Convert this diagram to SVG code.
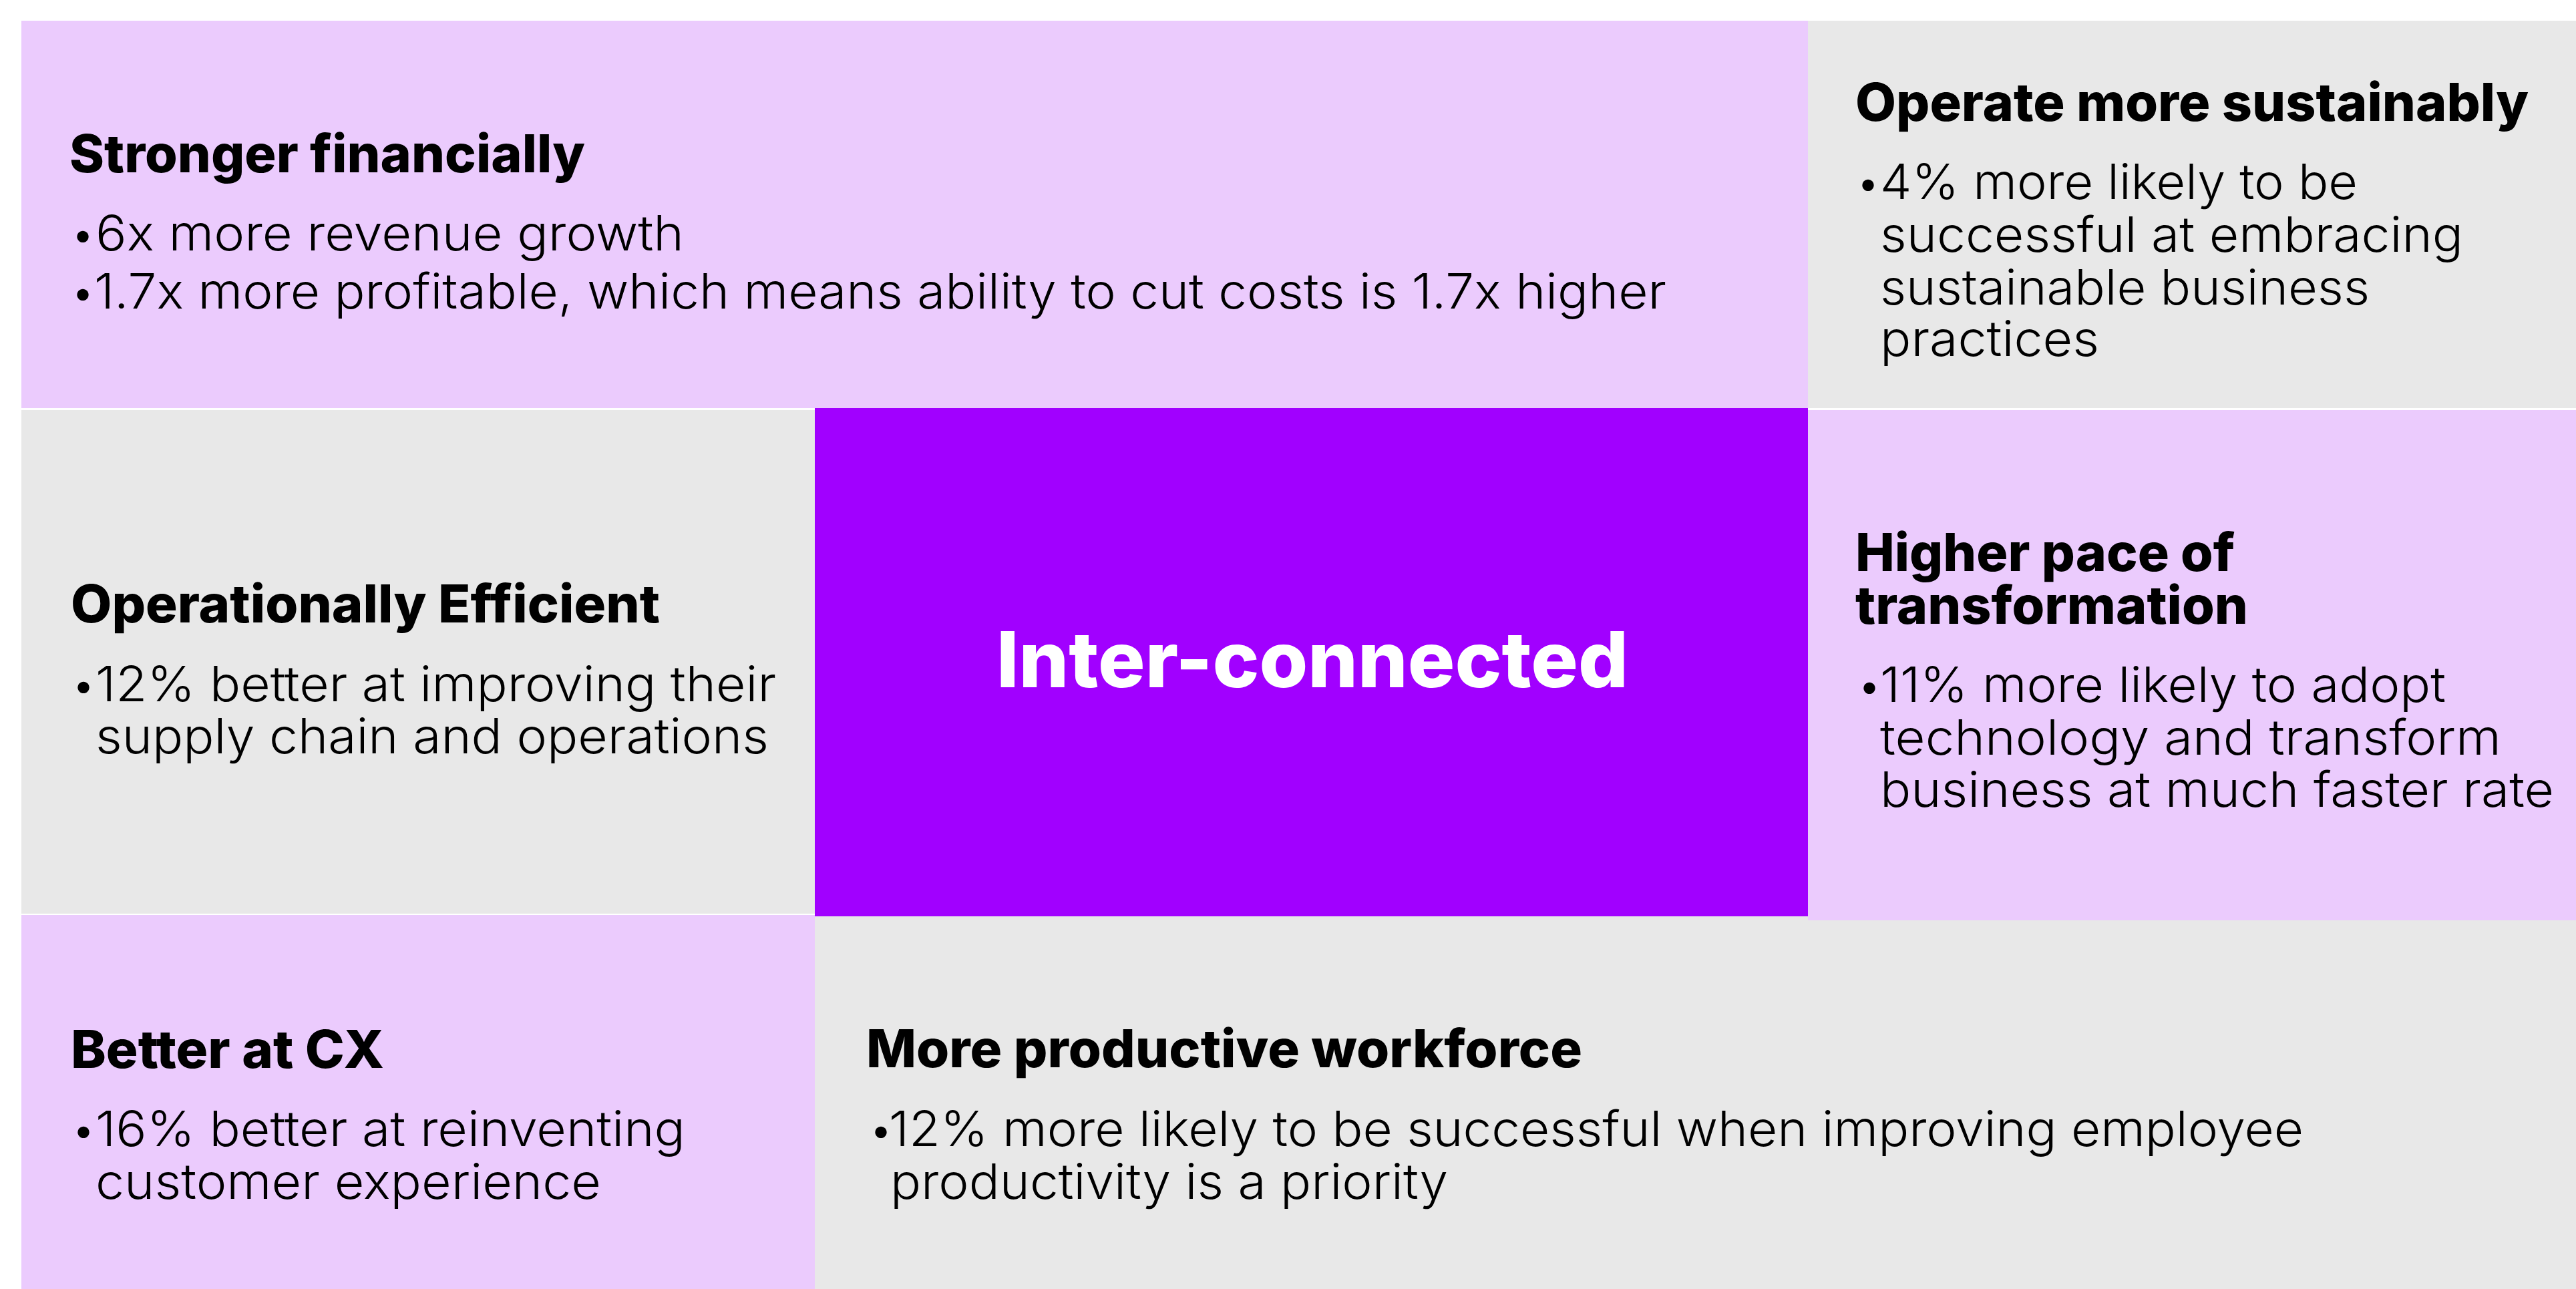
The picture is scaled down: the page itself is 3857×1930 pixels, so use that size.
<svg xmlns="http://www.w3.org/2000/svg" width="3857" height="1930" viewBox="0 0 3857 1930">
<style>
.lilac{fill:#EBCBFD}
.grey{fill:#E8E8E8}
.purple{fill:#A100FF}
.h{font-family:Inter,"Liberation Sans",Roboto,sans-serif;font-weight:800;font-size:78px;fill:#000}
.b{font-family:Inter,Roboto,"Open Sans","Liberation Sans",sans-serif;font-weight:300;font-size:73px;fill:#000}
.c{font-family:Inter,"Liberation Sans",Roboto,sans-serif;font-weight:800;font-size:116px;fill:#fff}
.dot{font-size:64px}
</style>
<rect x="0" y="0" width="3857" height="1930" fill="#ffffff"/>
<g id="node-workforce">
<rect class="grey" x="1220" y="1371" width="2637" height="559"/>
<text class="h" x="1297" y="1598" textLength="1072" lengthAdjust="spacingAndGlyphs">More productive workforce</text>
<text class="b"><tspan class="dot" x="1301" y="1714">•</tspan><tspan x="1331" y="1716" textLength="2118" lengthAdjust="spacingAndGlyphs">12% more likely to be successful when improving employee</tspan><tspan x="1333" y="1795" textLength="835" lengthAdjust="spacingAndGlyphs">productivity is a priority</tspan></text>
</g>
<g id="node-financial">
<rect class="lilac" x="32" y="31" width="2675" height="580"/>
<text class="h" x="104" y="258" textLength="772" lengthAdjust="spacingAndGlyphs">Stronger financially</text>
<text class="b"><tspan class="dot" x="106" y="373">•</tspan><tspan x="143" y="375" textLength="881" lengthAdjust="spacingAndGlyphs">6x more revenue growth</tspan><tspan class="dot" x="106" y="460">•</tspan><tspan x="141" y="462" textLength="2354" lengthAdjust="spacingAndGlyphs">1.7x more profitable, which means ability to cut costs is 1.7x higher</tspan></text>
</g>
<g id="node-sustainable">
<rect class="grey" x="2707" y="31" width="1150" height="580"/>
<text class="h" x="2778" y="181" textLength="1008" lengthAdjust="spacingAndGlyphs">Operate more sustainably</text>
<text class="b"><tspan class="dot" x="2779" y="296">•</tspan><tspan x="2815" y="298" textLength="715" lengthAdjust="spacingAndGlyphs">4% more likely to be</tspan><tspan x="2815" y="377" textLength="873" lengthAdjust="spacingAndGlyphs">successful at embracing</tspan><tspan x="2815" y="456" textLength="733" lengthAdjust="spacingAndGlyphs">sustainable business</tspan><tspan x="2815" y="533" textLength="328" lengthAdjust="spacingAndGlyphs">practices</tspan></text>
</g>
<g id="node-operational">
<rect class="grey" x="32" y="614" width="1189" height="754"/>
<text class="h" x="106" y="932" textLength="882" lengthAdjust="spacingAndGlyphs">Operationally Efficient</text>
<text class="b"><tspan class="dot" x="107" y="1048">•</tspan><tspan x="143" y="1050" textLength="1019" lengthAdjust="spacingAndGlyphs">12% better at improving their</tspan><tspan x="143" y="1128" textLength="1008" lengthAdjust="spacingAndGlyphs">supply chain and operations</tspan></text>
</g>
<g id="node-pace">
<rect class="lilac" x="2707" y="614" width="1150" height="764"/>
<text class="h"><tspan x="2778" y="855" textLength="568" lengthAdjust="spacingAndGlyphs">Higher pace of</tspan><tspan x="2778" y="934" textLength="588" lengthAdjust="spacingAndGlyphs">transformation</tspan></text>
<text class="b"><tspan class="dot" x="2781" y="1049">•</tspan><tspan x="2815" y="1051" textLength="847" lengthAdjust="spacingAndGlyphs">11% more likely to adopt</tspan><tspan x="2815" y="1130" textLength="930" lengthAdjust="spacingAndGlyphs">technology and transform</tspan><tspan x="2815" y="1208" textLength="1009" lengthAdjust="spacingAndGlyphs">business at much faster rate</tspan></text>
</g>
<g id="node-cx">
<rect class="lilac" x="32" y="1370" width="1188" height="560"/>
<text class="h" x="106" y="1599" textLength="469" lengthAdjust="spacingAndGlyphs">Better at CX</text>
<text class="b"><tspan class="dot" x="107" y="1714">•</tspan><tspan x="143" y="1716" textLength="883" lengthAdjust="spacingAndGlyphs">16% better at reinventing</tspan><tspan x="143" y="1795" textLength="757" lengthAdjust="spacingAndGlyphs">customer experience</tspan></text>
</g>
<g id="node-center">
<rect class="purple" x="1220" y="611" width="1487" height="761"/>
<text class="c" x="1492" y="1029" textLength="946" lengthAdjust="spacingAndGlyphs">Inter-connected</text>
</g>
</svg>
